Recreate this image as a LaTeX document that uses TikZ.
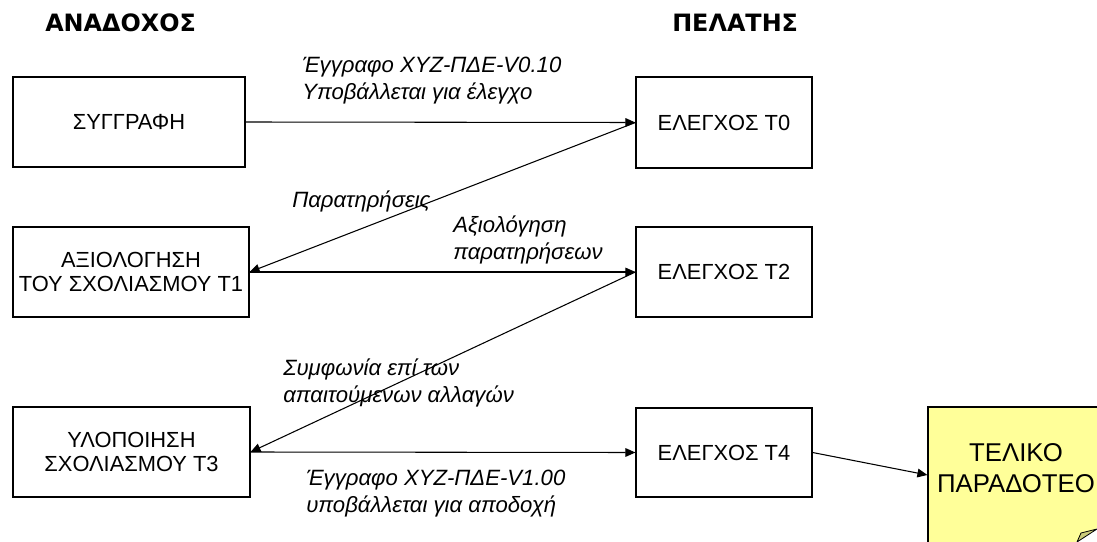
\documentclass[tikz,border=0pt]{standalone}
\usepackage{fontspec}
\setmainfont{Liberation Sans}
\newfontfamily\headfont{DejaVu Sans}
\usetikzlibrary{arrows.meta}
\definecolor{noteyellow}{HTML}{FFFF99}
\definecolor{foldolive}{HTML}{CCCC7A}
\begin{document}
\begin{tikzpicture}[x=0.75pt,y=-0.75pt,
  stage/.style={draw, line width=0.9pt, inner sep=0pt, align=center,
    font=\fontsize{16.4}{18}\selectfont},
  lbl/.style={inner sep=0pt, align=left, anchor=base west,
    font=\fontsize{16.6}{20}\selectfont\itshape},
  head/.style={inner sep=0pt, anchor=base west,
    font=\headfont\bfseries\fontsize{17.9}{20}\selectfont},
  flow/.style={line width=0.8pt, -{Triangle[length=7.5pt,width=6.5pt]}}]
\useasboundingbox (0,0) rectangle (1097,542);
\clip (0,0) rectangle (1097,542);

% column headings
\node[head] (hA) at (45,32) {ΑΝΑΔΟΧΟΣ};
\node[head] (hP) at (672,32) {ΠΕΛΑΤΗΣ};

% contractor side
\node[stage, minimum width=174pt, minimum height=67.5pt] (s) at (129,122) {ΣΥΓΓΡΑΦΗ};
\node[stage, minimum width=177pt, minimum height=67.5pt] (a) at (131,272) {ΑΞΙΟΛΟΓΗΣΗ\\ΤΟΥ ΣΧΟΛΙΑΣΜΟΥ Τ1};
\node[stage, minimum width=177.75pt, minimum height=67.5pt] (u) at (131.5,452) {ΥΛΟΠΟΙΗΣΗ\\ΣΧΟΛΙΑΣΜΟΥ Τ3};

% client side
\node[stage, minimum width=132pt, minimum height=68.25pt] (t0) at (724,122.5) {ΕΛΕΓΧΟΣ Τ0};
\node[stage, minimum width=132pt, minimum height=67.5pt] (t2) at (724,272) {ΕΛΕΓΧΟΣ Τ2};
\node[stage, minimum width=132pt, minimum height=66.75pt] (t4) at (724,452.5) {ΕΛΕΓΧΟΣ Τ4};

% final deliverable note with its curled corner
\node[draw, line width=0.9pt, fill=noteyellow, inner sep=0pt,
  minimum width=132pt, minimum height=102pt] (f) at (1016,475) {};
\node[align=center, inner sep=0pt, font=\fontsize{19.3}{23.25}\selectfont]
  (ftxt) at (1016,468) {ΤΕΛΙΚΟ\\ΠΑΡΑΔΟΤΕΟ};
\fill[white] (1076,542) -- (1097,528) -- (1097,542) -- cycle;
\draw[fill=foldolive, line width=0.6pt] (1077,542) -- (1081,533) -- (1097,529) -- cycle;

% flow of the document
\draw[flow] (s.east) -- (t0.west);
\draw[flow] (t0.west) -- (a.east);
\draw[flow] (a.east) -- (t2.west);
\draw[flow] (t2.west) -- (u.east);
\draw[flow] (u.east) -- (t4.west);
\draw[flow] (t4.east) -- (f.west);

% labels on the flow (anchored at the baseline of the last line)
\node[lbl] (l1) at (302,99) {Έγγραφο XYZ-ΠΔΕ-V0.10\\Υποβάλλεται για έλεγχο};
\node[lbl] (l2) at (292,207) {Παρατηρήσεις};
\node[lbl] (l3) at (453,259) {Αξιολόγηση\\παρατηρήσεων};
\node[lbl] (l4) at (283,402) {Συμφωνία επί των\\απαιτούμενων αλλαγών};
\node[lbl] (l5) at (306,512) {Έγγραφο XYZ-ΠΔΕ-V1.00\\υποβάλλεται για αποδοχή};
\end{tikzpicture}
\end{document}
